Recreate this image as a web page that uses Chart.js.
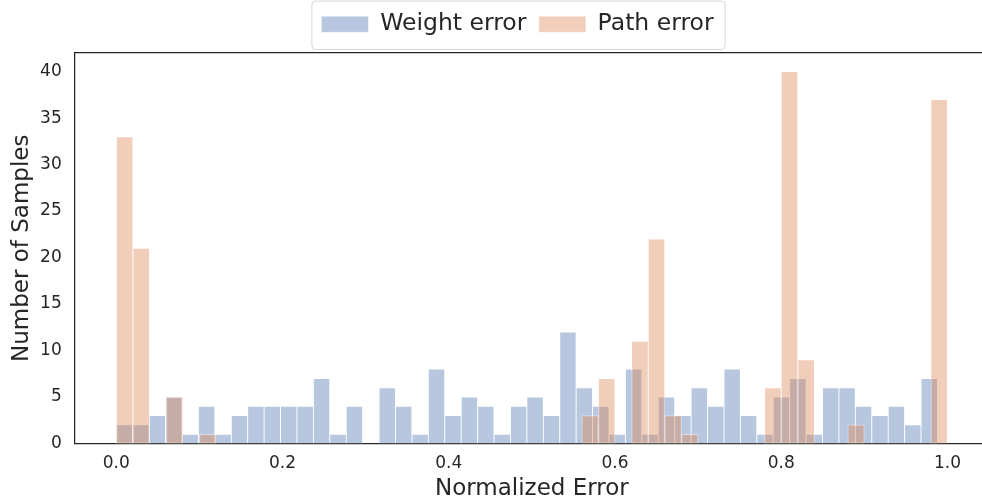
<!DOCTYPE html>
<html>
<head>
<meta charset="utf-8">
<script src="https://cdn.jsdelivr.net/npm/chart.js@4.4.0/dist/chart.umd.min.js"></script>
<style>
html, body { margin: 0; padding: 0; background: #fff; overflow: hidden; }
#wrap { width: 992px; height: 500px; }
</style>
</head>
<body>
<div id="wrap"><canvas id="myChart" width="992" height="500"></canvas></div>
<script>
// two histograms, 50 bins each, over their own range
var seriesNames = ['Weight error', 'Path error'];
var weightRange = [0, 0.988];
var pathRange = [0, 1.0];
var weightCounts = [2, 2, 3, 5, 1, 4, 1, 3, 4, 4,
                    4, 4, 7, 1, 4, 0, 6, 4, 1, 8,
                    3, 5, 4, 1, 4, 5, 3, 12, 6, 4,
                    1, 8, 1, 5, 3, 6, 4, 8, 3, 1,
                    5, 7, 1, 6, 6, 4, 3, 4, 2, 7];
var pathCounts = [33, 21, 0, 5, 0, 1, 0, 0, 0, 0,
                  0, 0, 0, 0, 0, 0, 0, 0, 0, 0,
                  0, 0, 0, 0, 0, 0, 0, 0, 3, 7,
                  0, 11, 22, 3, 1, 0, 0, 0, 0, 6,
                  40, 9, 0, 0, 2, 0, 0, 0, 0, 37];
var xTicks = [0.0, 0.2, 0.4, 0.6, 0.8, 1.0];
var yTicks = [0, 5, 10, 15, 20, 25, 30, 35, 40];
var xLimits = [-0.05, 1.05];
var yLimits = [0, 42];

// bin centre for every count
function binPoints(range, counts) {
    var w = (range[1] - range[0]) / counts.length;
    return counts.map(function(c, i) {
        return { x: range[0] + (i + 0.5) * w, y: c };
    });
}

var ink = '#262626';
Chart.defaults.font.family = 'DejaVu Sans';
Chart.defaults.color = ink;

// move the legend a bit right and draw the matplotlib-style frame round it
var legendFrame = {
    id: 'legendFrame',
    afterLayout: function(chart) {
        chart.legend.left += 21;
        chart.legend.right += 21;
    },
    afterDraw: function(chart) {
        var hb = chart.legend.legendHitBoxes;
        if (!hb || !hb.length) return;
        var last = hb[hb.length - 1];
        var l = hb[0].left - 9.5, r = last.left + last.width + 11.5;
        var t = hb[0].top - 11.5, b = hb[0].top + hb[0].height + 13.5;
        var ctx = chart.ctx;
        ctx.save();
        ctx.strokeStyle = '#d6d6d6';
        ctx.lineWidth = 1;
        ctx.beginPath();
        ctx.roundRect(l, t, r - l, b - t, 4);
        ctx.stroke();
        ctx.restore();
    }
};

var ctx = document.getElementById('myChart').getContext('2d');
var myChart = new Chart(ctx, {
    type: 'bar',
    data: {
        datasets: [{
            label: seriesNames[0],
            data: binPoints(weightRange, weightCounts),
            xAxisID: 'x',
            order: 1,
            backgroundColor: 'rgba(76,114,176,0.4)',
            borderColor: 'rgba(255,255,255,0.45)',
            borderWidth: 0.8
        }, {
            label: seriesNames[1],
            data: binPoints(pathRange, pathCounts),
            xAxisID: 'x2',
            order: 0,
            backgroundColor: 'rgba(221,132,82,0.4)',
            borderColor: 'rgba(255,255,255,0.45)',
            borderWidth: 0.8
        }]
    },
    options: {
        responsive: false,
        animation: false,
        grouped: false,
        categoryPercentage: 1,
        barPercentage: 1,
        borderSkipped: false,
        layout: { padding: { left: 4, right: 3, top: 0, bottom: 0 } },
        plugins: {
            tooltip: { enabled: false },
            legend: {
                position: 'top',
                labels: {
                    font: { size: 23.5 },
                    color: ink,
                    boxWidth: 47,
                    boxHeight: 16,
                    padding: 12.5,
                    sort: function(a, b) { return a.datasetIndex - b.datasetIndex; }
                }
            }
        },
        scales: {
            x: {
                type: 'linear',
                position: 'bottom',
                offset: false,
                min: xLimits[0],
                max: xLimits[1],
                z: 1,
                afterBuildTicks: function(axis) {
                    axis.ticks = xTicks.map(function(v) { return { value: v }; });
                },
                ticks: {
                    font: { size: 17 },
                    color: ink,
                    padding: 10,
                    maxRotation: 0,
                    callback: function(v) { return v.toFixed(1); }
                },
                grid: { display: false, drawTicks: false },
                border: { display: true, color: ink, width: 1.25 },
                title: {
                    display: true,
                    text: 'Normalized Error',
                    font: { size: 23 },
                    color: ink,
                    padding: { top: -9, bottom: -2.5 }
                }
            },
            x2: {
                type: 'linear',
                position: 'top',
                offset: false,
                min: xLimits[0],
                max: xLimits[1],
                z: 1,
                afterBuildTicks: function(axis) {
                    axis.ticks = xTicks.map(function(v) { return { value: v }; });
                },
                ticks: { display: false },
                grid: { display: false, drawTicks: true, tickLength: 7 },
                border: { display: true, color: ink, width: 1.25 }
            },
            y: {
                min: yLimits[0],
                max: yLimits[1],
                z: 1,
                afterBuildTicks: function(axis) {
                    axis.ticks = yTicks.map(function(v) { return { value: v }; });
                },
                ticks: {
                    font: { size: 17 },
                    color: ink,
                    padding: 13
                },
                grid: { display: false, drawTicks: false },
                border: { display: true, color: ink, width: 1.25 },
                title: {
                    display: true,
                    text: 'Number of Samples',
                    font: { size: 23 },
                    color: ink,
                    padding: { top: 4, bottom: -8.5 }
                }
            }
        }
    },
    plugins: [legendFrame]
});
</script>
</body>
</html>
